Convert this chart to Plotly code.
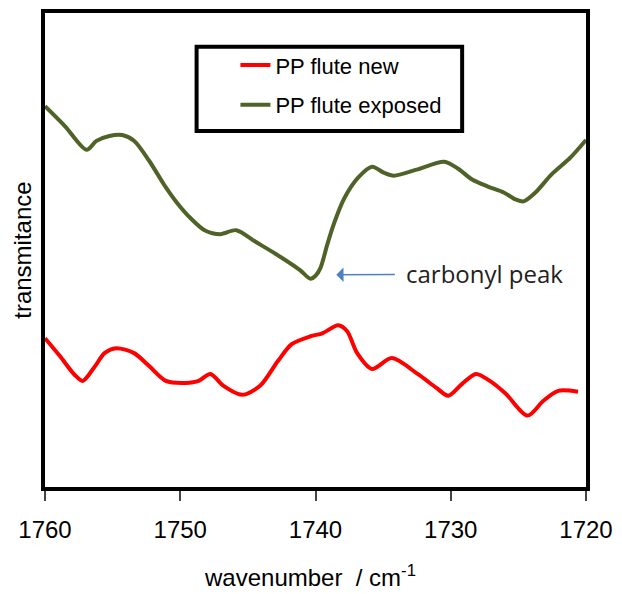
import plotly.graph_objects as go

# wavenumber (cm-1) and transmittance (arbitrary units)
new_wn = [1760.0, 1758.9, 1757.8, 1757.22, 1756.34, 1755.6, 1754.73, 1753.41, 1752.3, 1751.06,
          1749.6, 1748.64, 1747.77, 1746.8, 1745.42, 1744.1, 1742.78, 1741.76, 1740.37, 1739.49,
          1738.32, 1737.66, 1736.92, 1735.82, 1734.36, 1732.45, 1731.06, 1730.18, 1729.16, 1728.13,
          1727.11, 1725.93, 1724.32, 1723.15, 1722.05, 1720.59]
new_tr = [150, 132, 113, 107, 121, 135, 140, 135, 122, 107,
          105, 107, 114, 102, 93, 102, 127, 144, 152, 155,
          163, 157, 135, 119, 130, 114, 100, 92, 104, 114,
          107, 94, 72, 87, 97, 96]

exp_wn = [1760.0, 1758.53, 1756.92, 1756.2, 1755.24, 1754.29, 1753.4, 1752.3, 1751.2, 1750.26,
          1749.23, 1748.2, 1747.03, 1745.86, 1744.4, 1742.93, 1741.17, 1740.37, 1740.0, 1739.63,
          1739.12, 1738.6, 1737.88, 1736.85, 1735.82, 1734.95, 1734.21, 1732.53, 1730.48, 1729.45,
          1728.42, 1727.25, 1726.08, 1725.2, 1724.62, 1723.74, 1722.56, 1721.17, 1720.0]
exp_tr = [384, 364, 340, 349, 354, 355, 349, 329, 305, 287,
          271, 259, 255, 259, 247, 235, 219, 210, 213, 221,
          245, 267, 291, 312, 323, 317, 314, 320, 328, 321,
          310, 303, 297, 290, 288, 297, 315, 332, 350]

x_ticks = [1760, 1750, 1740, 1730, 1720]

RED = "#ff0000"
GREEN = "#4f6228"
FONT = "Liberation Sans, Arial, sans-serif"

fig = go.Figure()
fig.add_trace(go.Scatter(x=new_wn, y=new_tr, mode="lines", name="PP flute new",
                         line=dict(color=RED, width=4, shape="spline", smoothing=0.8),
                         legendgroup="a"))
fig.add_trace(go.Scatter(x=exp_wn, y=exp_tr, mode="lines", name="PP flute exposed",
                         line=dict(color=GREEN, width=4, shape="spline", smoothing=0.8),
                         legendgroup="b"))

fig.update_layout(
    width=622, height=594,
    margin=dict(l=45, r=31, t=9, b=107),
    plot_bgcolor="white", paper_bgcolor="white",
    font=dict(family=FONT, color="black"),
    showlegend=True,
    legend=dict(x=0.352, y=0.934, xanchor="left", yanchor="top",
                bgcolor="rgba(0,0,0,0)", borderwidth=0,
                font=dict(size=22, family=FONT, color="black"),
                tracegroupgap=8),
    xaxis=dict(range=[1760, 1720], tickvals=x_ticks, ticktext=[str(v) for v in x_ticks],
               showgrid=False, zeroline=False, showline=True, mirror=True,
               linecolor="black", linewidth=4, ticks="outside", ticklen=10,
               tickwidth=1.5, tickcolor="#444", ticklabelstandoff=8,
               tickfont=dict(size=24, family=FONT, color="black")),
    yaxis=dict(range=[0, 478], showticklabels=False, showgrid=False, zeroline=False,
               showline=True, mirror=True, linecolor="black", linewidth=4, ticks=""),
    annotations=[
        dict(text="wavenumber  / cm<sup>-1</sup>", xref="paper", yref="paper",
             x=0.49, y=-0.188, xanchor="center", yanchor="middle", showarrow=False,
             font=dict(size=24, family=FONT, color="black")),
        dict(text="transmitance", xref="paper", yref="paper", x=-0.043, y=0.5,
             xanchor="center", yanchor="middle", textangle=-90, showarrow=False,
             font=dict(size=24, family=FONT, color="black")),
        dict(text="carbonyl peak", x=1738.46, y=214, xref="x", yref="y",
             ax=148, ay=-1, axref="pixel", ayref="pixel",
             showarrow=True, arrowhead=1, arrowsize=1.6, arrowwidth=1.5,
             arrowcolor="#4f81bd", borderpad=11, borderwidth=0,
             font=dict(size=24, family="Open Sans, Liberation Sans, sans-serif", color="#222")),
    ],
    shapes=[
        dict(type="rect", xref="paper", yref="paper",
             x0=(198 - 45) / 546, x1=(466 - 45) / 546,
             y0=(487 - 128) / 478, y1=(487 - 43) / 478,
             line=dict(color="black", width=4), fillcolor="rgba(0,0,0,0)"),
    ],
)

fig.write_html("out.html")
